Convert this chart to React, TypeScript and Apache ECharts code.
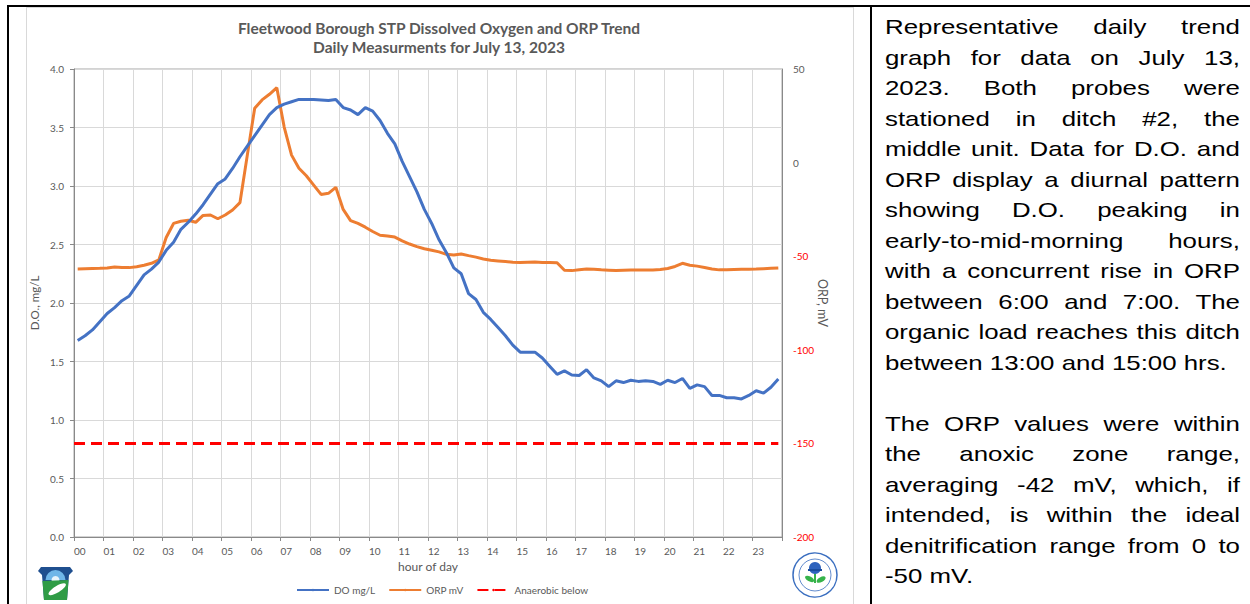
import React, { useEffect, useRef } from "react";
import * as echarts from "echarts";

// Time of each reading (hours, 15-minute intervals, mid-interval)
const HOURS: number[] = Array.from({ length: 96 }, (_, i) => (i + 0.5) / 4);

const DO_MGL: number[] = [
  1.68, 1.72, 1.77, 1.84, 1.91, 1.96, 2.02, 2.06, 2.15, 2.24, 2.29, 2.35,
  2.45, 2.52, 2.63, 2.69, 2.76, 2.84, 2.93, 3.02, 3.06, 3.15, 3.25, 3.34,
  3.43, 3.52, 3.61, 3.67, 3.70, 3.72, 3.74, 3.74, 3.74, 3.735, 3.73, 3.74,
  3.67, 3.65, 3.61, 3.67, 3.64, 3.56, 3.45, 3.36, 3.21, 3.08, 2.95, 2.80,
  2.68, 2.54, 2.43, 2.30, 2.25, 2.08, 2.03, 1.92, 1.86, 1.79, 1.72, 1.64,
  1.58, 1.58, 1.58, 1.53, 1.46, 1.39, 1.42, 1.385, 1.38, 1.43, 1.36, 1.335,
  1.285, 1.335, 1.32, 1.34, 1.33, 1.335, 1.33, 1.305, 1.34, 1.32, 1.355, 1.27,
  1.30, 1.285, 1.21, 1.21, 1.19, 1.19, 1.18, 1.21, 1.25, 1.23, 1.28, 1.35,
];

const ORP_MV: number[] = [
  -56.8, -56.7, -56.6, -56.5, -56.3, -55.8, -56.0, -56.1, -55.6, -54.8, -53.8, -52.0,
  -40.0, -32.5, -31.3, -30.8, -31.9, -28.2, -28.0, -30.0, -28.0, -25.3, -21.4, 4.0,
  29.0, 33.5, 36.5, 40.0, 19.0, 4.0, -3.0, -7.0, -12.0, -17.0, -16.4, -13.2,
  -25.0, -31.0, -32.5, -34.5, -36.8, -38.8, -39.2, -39.8, -41.8, -43.5, -44.9, -46.0,
  -46.8, -47.7, -49.0, -49.3, -48.8, -49.7, -50.5, -51.5, -52.2, -52.5, -52.8, -53.2,
  -53.3, -53.2, -53.1, -53.3, -53.4, -53.5, -57.5, -57.7, -57.2, -56.8, -57.0, -57.3,
  -57.5, -57.7, -57.5, -57.4, -57.4, -57.4, -57.4, -57.1, -56.6, -55.5, -53.8, -54.8,
  -55.3, -56.0, -56.8, -57.3, -57.2, -57.1, -57.0, -57.0, -56.9, -56.7, -56.5, -56.3,
];

const ANAEROBIC_MV = -150;

const TITLE_LINES = [
  "Fleetwood Borough STP Dissolved Oxygen and ORP Trend",
  "Daily Measurments for July 13, 2023",
];
const SERIES_NAMES = ["DO mg/L", "ORP mV", "Anaerobic below"];

const PARA1 = [
  "Representative daily trend",
  "graph for data on July 13,",
  "2023.  Both probes were",
  "stationed in ditch #2, the",
  "middle unit.  Data for D.O. and",
  "ORP display a diurnal pattern",
  "showing D.O. peaking in",
  "early-to-mid-morning hours,",
  "with a concurrent rise in ORP",
  "between 6:00 and 7:00. The",
  "organic load reaches this ditch",
  "between 13:00 and 15:00 hrs.",
];
const PARA2 = [
  "The ORP values were within",
  "the anoxic zone range,",
  "averaging -42 mV, which, if",
  "intended, is within the ideal",
  "denitrification range from 0 to",
  "-50 mV.",
];

const FONT = "Lato, 'Open Sans', sans-serif";
const GRAY = "#595959";

function Chart() {
  const ref = useRef<HTMLDivElement>(null);
  useEffect(() => {
    if (!ref.current) return;
    const chart = echarts.init(ref.current, null, { renderer: "svg" });
    const pad2 = (v: number) => (v < 10 ? "0" + v : String(v));
    chart.setOption({
      animation: false,
      backgroundColor: "transparent",
      textStyle: { fontFamily: FONT },
      title: {
        text: TITLE_LINES.join("\n"),
        left: 434,
        top: 13,
        textAlign: "center",
        textStyle: {
          fontFamily: FONT,
          fontSize: 15.5,
          fontWeight: "bold",
          color: GRAY,
          lineHeight: 19,
        },
      },
      legend: {
        left: 291,
        top: 580,
        itemWidth: 32,
        itemHeight: 3,
        itemGap: 13,
        textStyle: { fontFamily: FONT, fontSize: 10, color: GRAY },
        data: SERIES_NAMES,
      },
      grid: {
        left: 74,
        top: 69,
        right: 870 - 782,
        bottom: 604 - 537,
        show: true,
        borderColor: "#a6a6a6",
        borderWidth: 1,
        containLabel: false,
      },
      xAxis: {
        type: "value",
        min: 0,
        max: 24,
        interval: 1,
        name: "hour of day",
        nameLocation: "middle",
        nameGap: 23,
        nameMoveOverlap: false,
        nameTextStyle: { fontFamily: FONT, fontSize: 12, color: GRAY },
        axisLine: { show: true, lineStyle: { color: "#898989", width: 1 } },
        axisTick: { show: true, length: 4, lineStyle: { color: "#898989" } },
        axisLabel: {
          align: "left",
          margin: 9,
          fontSize: 10,
          color: GRAY,
          formatter: (v: number) => (v >= 24 ? "" : pad2(v)),
        },
        splitLine: { show: true, lineStyle: { color: "#d9d9d9", width: 1 } },
      },
      yAxis: [
        {
          type: "value",
          min: 0,
          max: 4,
          interval: 0.5,
          name: "D.O., mg/L",
          nameLocation: "middle",
          nameGap: 34,
          nameMoveOverlap: false,
          nameTextStyle: { fontFamily: FONT, fontSize: 11.5, color: GRAY },
          axisLine: { show: true, lineStyle: { color: "#898989", width: 1 } },
          axisTick: { show: true, length: 4, lineStyle: { color: "#898989" } },
          axisLabel: {
            margin: 10,
            fontSize: 10,
            color: GRAY,
            formatter: (v: number) => v.toFixed(1),
          },
          splitLine: { show: true, lineStyle: { color: "#d9d9d9", width: 1 } },
        },
        {
          type: "value",
          position: "right",
          min: -200,
          max: 50,
          interval: 50,
          name: "ORP, mV",
          nameLocation: "middle",
          nameGap: 34,
          nameMoveOverlap: false,
          nameRotate: -90,
          nameTextStyle: { fontFamily: FONT, fontSize: 12.5, color: GRAY },
          axisLine: { show: true, lineStyle: { color: "#898989", width: 1 } },
          axisTick: { show: false },
          axisLabel: {
            margin: 11,
            formatter: (v: number) => (v < 0 ? `{neg|${v}}` : `{pos|${v}}`),
            rich: {
              neg: { color: "#ff0000", fontSize: 10, fontFamily: FONT },
              pos: { color: GRAY, fontSize: 10, fontFamily: FONT },
            },
          },
          splitLine: { show: false },
        },
      ],
      series: [
        {
          name: SERIES_NAMES[0],
          type: "line",
          yAxisIndex: 0,
          symbol: "none",
          lineStyle: { color: "#4472c4", width: 3 },
          itemStyle: { color: "#4472c4" },
          data: DO_MGL.map((v, i) => [HOURS[i], v]),
          z: 4,
        },
        {
          name: SERIES_NAMES[1],
          type: "line",
          yAxisIndex: 1,
          symbol: "none",
          lineStyle: { color: "#ed7d31", width: 3 },
          itemStyle: { color: "#ed7d31" },
          data: ORP_MV.map((v, i) => [HOURS[i], v]),
          z: 3,
        },
        {
          name: SERIES_NAMES[2],
          type: "line",
          yAxisIndex: 1,
          symbol: "none",
          lineStyle: { color: "#ff0000", width: 3, type: [11, 6] },
          itemStyle: { color: "#ff0000" },
          data: [
            [0, ANAEROBIC_MV],
            [HOURS[HOURS.length - 1], ANAEROBIC_MV],
          ],
          z: 2,
        },
      ],
      graphic: [
        // PA DEP keystone logo (simplified)
        {
          type: "polygon",
          shape: {
            points: [
              [38, 571], [41, 567], [70, 567], [73, 571], [69, 575], [67, 600], [44, 600], [42, 575],
            ],
          },
          style: { fill: "#1f4f8f" },
        },
        {
          type: "sector",
          shape: { cx: 55.5, cy: 580, r0: 0, r: 10, startAngle: Math.PI, endAngle: 2 * Math.PI },
          style: { fill: "#6fb6e8" },
        },
        {
          type: "circle",
          shape: { cx: 55.5, cy: 580, r: 4 },
          style: { fill: "#e8f4fb" },
        },
        {
          type: "polygon",
          shape: {
            points: [[42.5, 581], [68.5, 580], [67, 600], [44, 600]],
          },
          style: { fill: "#2f9c46" },
        },
        {
          type: "ellipse",
          shape: { cx: 57, cy: 589, rx: 10, ry: 3.2 },
          rotation: 0.55,
          originX: 57,
          originY: 589,
          style: { fill: "#ffffff" },
        },
        // EPA seal (simplified)
        {
          type: "circle",
          shape: { cx: 815, cy: 575, r: 22 },
          style: { fill: "#ffffff", stroke: "#3b6fc0", lineWidth: 1.5 },
        },
        {
          type: "circle",
          shape: { cx: 815, cy: 575, r: 16 },
          style: { fill: "none", stroke: "#3b6fc0", lineWidth: 0.8 },
        },
        {
          type: "circle",
          shape: { cx: 815, cy: 568, r: 6 },
          style: { fill: "#2d62bd" },
        },
        {
          type: "rect",
          shape: { x: 808, y: 569, width: 14, height: 2 },
          style: { fill: "#1a4c9e" },
        },
        {
          type: "ellipse",
          shape: { cx: 809, cy: 579, rx: 5, ry: 2.5 },
          rotation: -0.5,
          originX: 809,
          originY: 579,
          style: { fill: "#36b34a" },
        },
        {
          type: "ellipse",
          shape: { cx: 821, cy: 579, rx: 5, ry: 2.5 },
          rotation: 0.5,
          originX: 821,
          originY: 579,
          style: { fill: "#36b34a" },
        },
        {
          type: "rect",
          shape: { x: 814, y: 574, width: 2, height: 9 },
          style: { fill: "#36b34a" },
        },
      ],
    });
    return () => chart.dispose();
  }, []);
  return <div ref={ref} style={{ position: "absolute", left: 0, top: 0, width: 870, height: 604 }} />;
}

const lineStyleJust: React.CSSProperties = { textAlign: "justify", textAlignLast: "justify" as any, height: 30.5 };
const lineStyleLeft: React.CSSProperties = { textAlign: "left", height: 30.5 };

export default function App() {
  return (
    <div
      style={{
        position: "fixed",
        left: 0,
        top: 0,
        width: 1250,
        height: 604,
        background: "#ffffff",
        overflow: "hidden",
      }}
    >
      {/* chart frame */}
      <div
        style={{
          position: "absolute",
          left: 26,
          top: 7,
          width: 826,
          height: 620,
          border: "1px solid #d9d9d9",
        }}
      />
      <Chart />
      {/* table borders */}
      <div style={{ position: "absolute", left: 7, top: 5, width: 1243, height: 2, background: "#000" }} />
      <div style={{ position: "absolute", left: 7, top: 5, width: 2, height: 600, background: "#000" }} />
      <div style={{ position: "absolute", left: 870, top: 5, width: 2, height: 600, background: "#000" }} />
      {/* description */}
      <div
        style={{
          position: "absolute",
          left: 885,
          top: 12,
          width: 288.6,
          transform: "scaleX(1.23)",
          transformOrigin: "0 0",
          fontFamily: "'Liberation Sans', Arial, sans-serif",
          fontSize: 21,
          lineHeight: "30.5px",
          color: "#000",
        }}
      >
        {PARA1.map((t, i) => (
          <div key={"a" + i} style={i === PARA1.length - 1 ? lineStyleLeft : lineStyleJust}>
            {t}
          </div>
        ))}
        <div style={{ height: 30.5 }} />
        {PARA2.map((t, i) => (
          <div key={"b" + i} style={i === PARA2.length - 1 ? lineStyleLeft : lineStyleJust}>
            {t}
          </div>
        ))}
      </div>
    </div>
  );
}
